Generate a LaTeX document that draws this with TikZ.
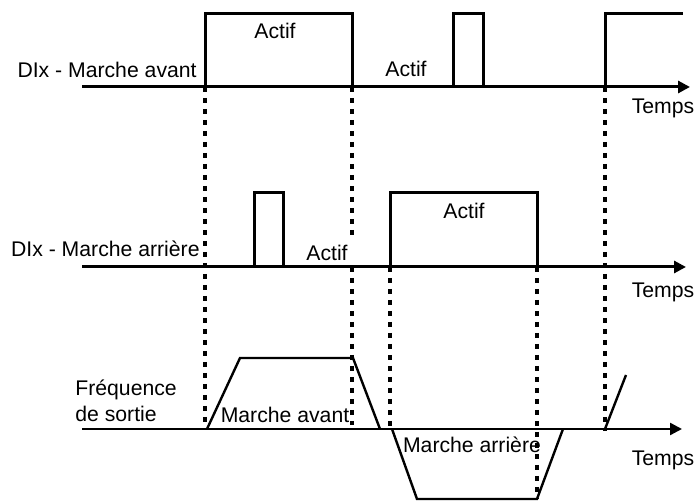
\documentclass[tikz,border=0pt]{standalone}
\usepackage{fontspec}
\setsansfont{Liberation Sans}
\usetikzlibrary{arrows.meta}

\begin{document}
\begin{tikzpicture}[
    x=0.5pt, y=-0.5pt,
    >={Triangle[length=6pt,width=6pt]},
    font=\sffamily\fontsize{10.6}{12.8}\selectfont,
    axis/.style={->, line width=1.5pt},
    signal/.style={line width=1.5pt, line join=miter},
    freq/.style={line width=1.2pt},
    guide/.style={line width=1.6pt, dash pattern=on 2.5pt off 3pt},
    lbl/.style={inner sep=0pt},
  ]
\useasboundingbox (0,0) rectangle (698,501);

% ===== DIx - Marche avant =====
\draw[axis] (82,87) -- (690,87);
\draw[signal] (205,87) |- (352,14) -- (352,87);
\draw[signal] (453,87) |- (483,14) -- (483,87);
\draw[signal] (605,87) |- (683,14);

\node[lbl, anchor=east] (avName) at (197,70) {DIx - Marche avant};
\node[lbl] (avActifA) at (275,31) {Actif};
\node[lbl] (avActifB) at (406,69) {Actif};
\node[lbl] (avTemps) at (663,108) {Temps};

% ===== DIx - Marche arriere =====
\draw[axis] (82,267) -- (686,267);
\draw[signal] (254,267) |- (283,193) -- (283,267);
\draw[signal] (390,267) |- (537,193) -- (537,267);

\node[lbl, anchor=east] (arName) at (200,249) {DIx - Marche arrière};
\node[lbl] (arActifA) at (327,253) {Actif};
\node[lbl] (arActifB) at (464,211) {Actif};
\node[lbl] (arTemps) at (663,292) {Temps};

% ===== Frequence de sortie =====
\draw[freq, ->] (82,429) -- (682,429);
\draw[freq] (207,429) -- (240,358) -- (353,358) -- (380,429);
\draw[freq] (392,429) -- (417,499) -- (537,499) -- (563,429);
\draw[freq] (605,429) -- (626,375);

\node[lbl, anchor=west, align=left] (fqName) at (75,401) {Fréquence\\de sortie};
\node[lbl] (fqAvant) at (285,415) {Marche avant};
\node[lbl] (fqArriere) at (472,445) {Marche arrière};
\node[lbl] (fqTemps) at (663,460) {Temps};

% Guides
\draw[guide] (205,87) -- (205,429);
\draw[guide] (352,87) -- (352,240);
\draw[guide] (352,267) -- (352,425);
\draw[guide] (390,267) -- (390,429);
\draw[guide] (537,267) -- (537,499);
\draw[guide] (605,87) -- (605,431);

\end{tikzpicture}
\end{document}
